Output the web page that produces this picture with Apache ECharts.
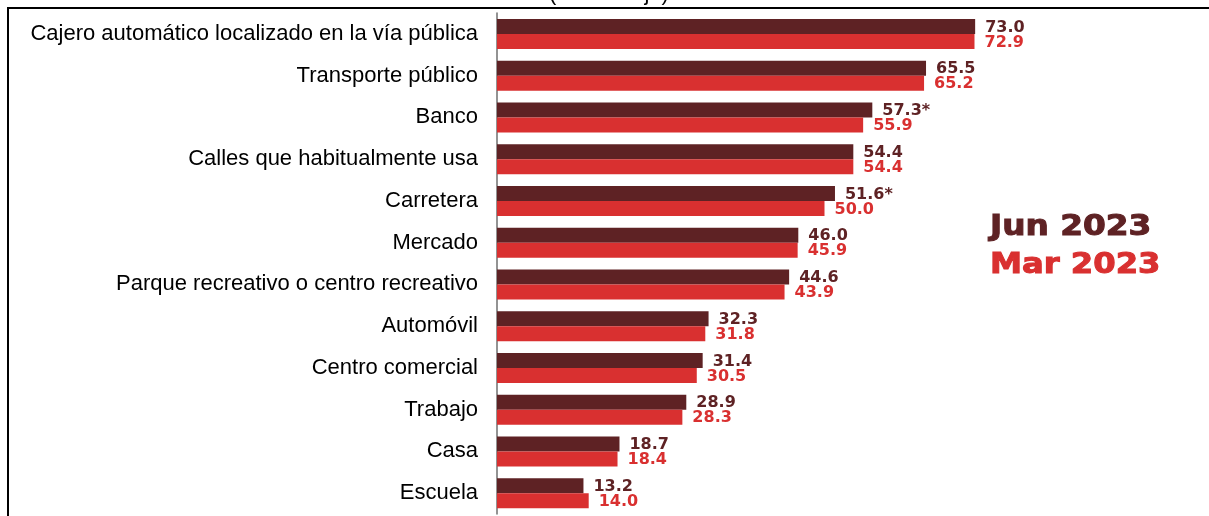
<!DOCTYPE html>
<html>
<head>
<meta charset="utf-8">
<script src="https://cdn.jsdelivr.net/npm/echarts@6/dist/echarts.min.js"></script>
<style>
  html, body { margin: 0; padding: 0; background: #fff; }
  #chart { width: 1209px; height: 516px; }
</style>
</head>
<body>
<div id="chart"></div>
<script>
// categories, top to bottom
var lugares = [
  'Cajero automático localizado en la vía pública',
  'Transporte público',
  'Banco',
  'Calles que habitualmente usa',
  'Carretera',
  'Mercado',
  'Parque recreativo o centro recreativo',
  'Automóvil',
  'Centro comercial',
  'Trabajo',
  'Casa',
  'Escuela'
]
var jun2023 = [73.0, 65.5, 57.3, 54.4, 51.6, 46.0, 44.6, 32.3, 31.4, 28.9, 18.7, 13.2]
var mar2023 = [72.9, 65.2, 55.9, 54.4, 50.0, 45.9, 43.9, 31.8, 30.5, 28.3, 18.4, 14.0]
// asterisks for significant changes
var junMarks = ['', '', '*', '', '*', '', '', '', '', '', '', '']

var colorJun = '#5e2224'
var colorMar = '#d93030'

var myChart = echarts.init(document.getElementById('chart'))

myChart.setOption({
  backgroundColor: '#fff',
  animation: false,
  grid: {
    left: 497,
    right: 57,
    top: 13,
    bottom: 2
  },
  xAxis: {
    type: 'value',
    min: 0,
    max: 100,
    show: false
  },
  yAxis: {
    type: 'category',
    data: lugares,
    inverse: true,
    axisLine: {
      lineStyle: { color: '#6f6f6f', width: 1.5 }
    },
    axisTick: {
      length: 5,
      lineStyle: { color: '#6f6f6f', width: 1.5 }
    },
    axisLabel: {
      color: '#000',
      fontFamily: 'Liberation Sans',
      fontSize: 22,
      margin: 19
    }
  },
  series: [{
    name: 'Jun 2023',
    type: 'bar',
    data: jun2023,
    barWidth: 15,
    barGap: '0%',
    itemStyle: { color: colorJun },
    label: {
      show: true,
      position: 'right',
      distance: 10,
      offset: [0, 1],
      color: colorJun,
      fontFamily: 'DejaVu Sans',
      fontWeight: 'bold',
      fontSize: 16,
      formatter: function(p) {
        return p.value.toFixed(1) + junMarks[p.dataIndex]
      }
    }
  }, {
    name: 'Mar 2023',
    type: 'bar',
    data: mar2023,
    barWidth: 15,
    barGap: '0%',
    itemStyle: { color: colorMar },
    label: {
      show: true,
      position: 'right',
      distance: 10,
      offset: [0, 1],
      color: colorMar,
      fontFamily: 'DejaVu Sans',
      fontWeight: 'bold',
      fontSize: 16,
      formatter: function(p) {
        return p.value.toFixed(1)
      }
    }
  }],
  graphic: [{
    type: 'rect',
    shape: { x: 8, y: 8, width: 1230, height: 540 },
    style: { fill: null, stroke: '#000', lineWidth: 2 },
    silent: true
  }, {
    type: 'text',
    x: 609,
    y: 5,
    style: {
      text: '(Porcentaje)',
      fill: '#000',
      font: '22px "Liberation Sans"',
      align: 'center',
      verticalAlign: 'bottom'
    }
  }, {
    type: 'text',
    x: 990,
    y: 228,
    scaleX: 1.17,
    style: {
      text: 'Jun 2023',
      fill: colorJun,
      stroke: colorJun,
      lineWidth: 1,
      font: 'bold 28px "DejaVu Sans"',
      verticalAlign: 'middle'
    }
  }, {
    type: 'text',
    x: 990,
    y: 266,
    scaleX: 1.15,
    style: {
      text: 'Mar 2023',
      fill: colorMar,
      stroke: colorMar,
      lineWidth: 1,
      font: 'bold 28px "DejaVu Sans"',
      verticalAlign: 'middle'
    }
  }]
})

window.addEventListener('resize', function() {
  myChart.resize()
})
</script>
</body>
</html>
